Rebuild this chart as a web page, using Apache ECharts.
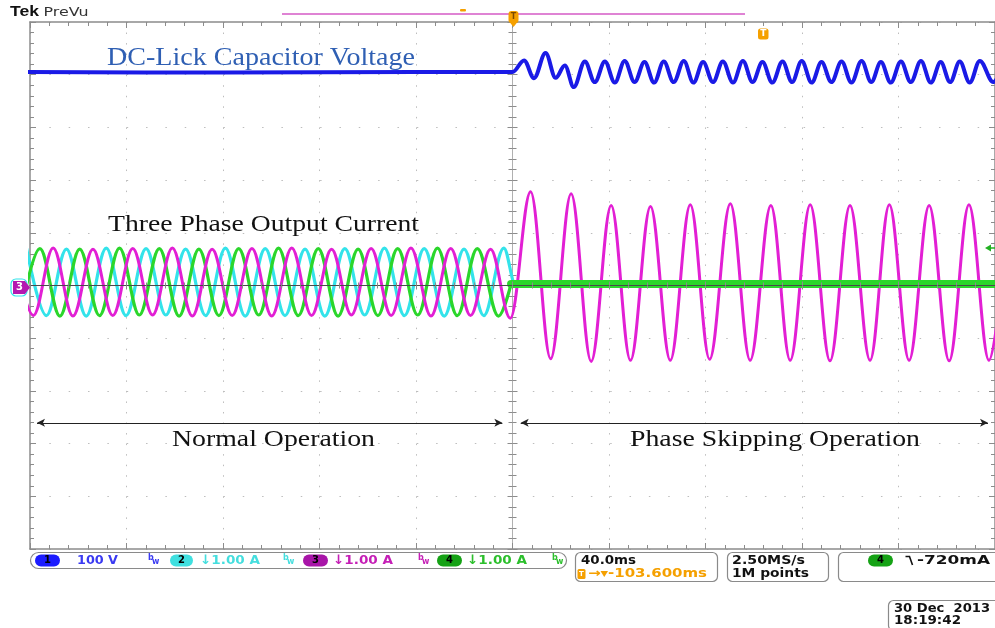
<!DOCTYPE html>
<html><head><meta charset="utf-8">
<script src="https://cdn.jsdelivr.net/npm/echarts@6/dist/echarts.min.js"></script>
<style>html,body{margin:0;padding:0;background:#fff}#c{width:995px;height:628px}</style>
</head><body><div id="c"></div>
<script>
// ---------------- data read from the scope capture ----------------
// time axis: 40 ms/div, 10 div, trigger at centre (t = 0)
const timeRangeMs = [-200, 200];
const timeDivMs = 40;
// vertical axis in divisions
const divRange = [-5, 5];
const VOLTS_PER_DIV = 100;   // ch1
const AMPS_PER_DIV = 1;      // ch2, ch3, ch4

// ch1: DC-link capacitor voltage (V)  (extrema only)
const dcLinkT = [-205, -120, -40, 0, 4.8, 8.9, 13.7, 17.9, 21.7, 25.4,
  30.0, 34.1, 38.3, 42.4, 46.5, 50.6, 54.7, 58.7, 62.7, 66.8,
  71.0, 75.0, 79.0, 83.1, 87.2, 91.4, 95.5, 99.5, 103.6, 107.7,
  111.9, 115.9, 119.9, 124.0, 128.1, 132.2, 136.4, 140.5, 144.7, 148.7,
  152.7, 156.8, 161.0, 165.1, 169.3, 173.4, 177.5, 181.4, 185.4, 189.5,
  193.7, 199.3, 203.5];
const dcLinkV = [405, 404, 405, 405, 427, 393.5, 441, 394, 417.5, 376.5,
  425, 386, 425, 385, 426, 386, 424, 385, 425, 386,
  426, 385, 424, 386, 425, 385, 426, 386, 424, 385,
  425, 386, 426, 385, 424, 386, 425, 385, 426, 386,
  424, 385, 425, 386, 426, 385, 424, 386, 425, 385,
  426, 386, 425];

// ch3 (magenta) phase current (A)  (peaks / troughs)
const phaseAT = [-206.8, -198.6, -190.4, -182.2, -173.9, -165.7, -157.4, -149.2, -141.0, -132.7,
  -124.5, -116.2, -108.0, -99.8, -91.5, -83.3, -75.0, -66.8, -58.6, -50.3,
  -42.1, -33.8, -25.6, -17.4, -9.1, -0.9,
  7.5, 15.8, 24.3, 32.6, 40.9, 48.9, 57.2, 65.4, 73.7, 81.7,
  90.3, 98.5, 107.1, 115.1, 123.4, 131.6, 139.9, 148.2, 156.2, 164.4,
  172.7, 181.0, 189.2, 197.5, 205.8];
const phaseAV = [0.70, -0.57, 0.71, -0.58, 0.69, -0.57, 0.70, -0.56, 0.71, -0.58,
  0.69, -0.57, 0.70, -0.58, 0.71, -0.57, 0.69, -0.56, 0.70, -0.57,
  0.71, -0.58, 0.70, -0.57, 0.69, -0.62,
  1.78, -1.39, 1.74, -1.44, 1.52, -1.42, 1.50, -1.42, 1.53, -1.40,
  1.55, -1.42, 1.52, -1.42, 1.53, -1.43, 1.52, -1.42, 1.53, -1.42,
  1.52, -1.43, 1.53, -1.42, 1.52];

// ch2 (cyan) phase current (A)
const phaseBT = [-201.4, -193.2, -184.9, -176.7, -168.4, -160.2, -151.9, -143.7, -135.5, -127.2,
  -119.0, -110.8, -102.5, -94.3, -86.0, -77.8, -69.5, -61.3, -53.1, -44.8,
  -36.6, -28.3, -20.1, -11.9, -3.6, 1.2, 205];
const phaseBV = [0.70, -0.57, 0.69, -0.58, 0.71, -0.57, 0.70, -0.56, 0.69, -0.57,
  0.71, -0.58, 0.70, -0.57, 0.69, -0.58, 0.70, -0.56, 0.71, -0.57,
  0.70, -0.58, 0.69, -0.57, 0.71, 0.02, 0.02];

// ch4 (green) phase current (A)
const phaseCT = [-204.1, -195.9, -187.6, -179.4, -171.2, -162.9, -154.7, -146.4, -138.2, -130.0,
  -121.7, -113.5, -105.2, -97.0, -88.8, -80.5, -72.3, -64.0, -55.8, -47.6,
  -39.3, -31.1, -22.9, -14.6, -5.8, -0.6];
const phaseCV = [-0.57, 0.70, -0.58, 0.69, -0.57, 0.71, -0.56, 0.70, -0.58, 0.69,
  -0.57, 0.70, -0.56, 0.71, -0.57, 0.70, -0.58, 0.69, -0.57, 0.70,
  -0.56, 0.71, -0.57, 0.70, -0.58, 0.03];
// ch4 after the phase is skipped (flat, noisy band)
const phaseCSkipT = [-0.6, 205];
const phaseCSkipV = [0.03, 0.03];

// annotation arrows (ms, A)
const arrowSpansT = [[-197.1, -4.2], [3.4, 197.1]];
const arrowLevel = -2.605;

// ---------------- chart ----------------
const C = {
  blue: '#1a1ae6', magenta: '#e21fd4', cyan: '#33e3ea', green: '#2bd62b',
  frame: '#8c8c8c', grid: '#bdbdbd', orange: '#f5a000'
};

function toPairs(T, V, scale) { return T.map((t, i) => [t, V[i] / scale]); }
function wave(name, T, V, scale, color, width, z) {
  return {
    type: 'line', name, xAxisIndex: 0, yAxisIndex: 0, data: toPairs(T, V, scale),
    showSymbol: false, symbol: 'none', smooth: 0.36, smoothMonotone: 'x',
    lineStyle: { color, width, cap: 'round', join: 'round' }, z, silent: true, animation: false
  };
}

const tickStyle = { color: C.frame, width: 1 };
function xAxisDef(opts) {
  return {
    type: 'value', gridIndex: 0, min: timeRangeMs[0], max: timeRangeMs[1], interval: timeDivMs,
    position: opts.position, z: opts.z || 1,
    axisLabel: { show: false },
    axisLine: { show: opts.line !== false, onZero: !!opts.onZero, onZeroAxisIndex: 0,
      lineStyle: { color: opts.lineColor || C.frame, width: opts.lineWidth || 1.5 } },
    axisTick: { show: true, inside: true, length: opts.major || 6, lineStyle: tickStyle },
    minorTick: { show: true, splitNumber: 5, length: opts.minor || 4, lineStyle: tickStyle },
    splitLine: opts.split ? { show: true, lineStyle: { color: C.grid, width: 1, type: [1.5, 9.04] } } : { show: false }
  };
}
function yAxisDef(opts) {
  return {
    type: 'value', gridIndex: 0, min: divRange[0], max: divRange[1], interval: 1,
    position: opts.position, z: opts.z || 1,
    axisLabel: { show: false },
    axisLine: { show: opts.line !== false, onZero: !!opts.onZero, onZeroAxisIndex: 0,
      lineStyle: { color: opts.lineColor || C.frame, width: opts.lineWidth || 1.5 } },
    axisTick: { show: true, inside: true, length: opts.major || 6, lineStyle: tickStyle },
    minorTick: { show: true, splitNumber: 5, length: opts.minor || 4, lineStyle: tickStyle },
    splitLine: opts.split ? { show: true, lineStyle: { color: C.grid, width: 1, type: [1.5, 17.84] } } : { show: false }
  };
}

// ---- text helpers (graphic overlay) ----
const mctx = document.createElement('canvas').getContext('2d');
function fitScale(text, font, w) {
  if (!w) return 1;
  mctx.font = font;
  return w / mctx.measureText(text).width;
}
function txt(text, x, y, font, fill, w, align) {
  return { type: 'text', x, y, scaleX: fitScale(text, font, w), z: 100, silent: true,
    style: { text, font, fill, textAlign: align || 'left', textVerticalAlign: 'middle' } };
}
function box(x, y, w, h, r, fill, stroke, lw) {
  return { type: 'rect', z: 99, silent: true, shape: { x, y, width: w, height: h, r },
    style: { fill: fill || '#fff', stroke: stroke || 'none', lineWidth: lw || 1 } };
}
function badge(x, w, color, label) {
  return [box(x, 554.5, w, 12, 6, color),
    { type: 'text', x: x + w / 2, y: 560.8, z: 101, silent: true,
      style: { text: label, font: 'bold 10px "DejaVu Sans"', fill: '#000', textAlign: 'center', textVerticalAlign: 'middle' } }];
}
function bwIcon(x, color) {
  return [txt('b', x, 558, 'bold 8px "DejaVu Sans"', color),
          txt('w', x + 4, 562, 'bold 8px "DejaVu Sans"', color)];
}

const serif = (s) => s + 'px "Liberation Serif"';
const mono = 'bold 13px "DejaVu Sans"';

const graphics = [
  // header
  txt('Tek', 10, 12, 'bold 15px "Liberation Sans"', '#111', 29),
  txt('PreVu', 43.5, 13, '12px "DejaVu Sans"', '#333', 45),
  { type: 'line', z: 50, silent: true, shape: { x1: 282, y1: 14, x2: 745, y2: 14 }, style: { stroke: '#d45ac6', lineWidth: 1.5 } },
  box(460, 9, 6, 2.5, 1, C.orange),
  // trigger position marker
  box(508.5, 11, 10, 12, 3, C.orange),
  { type: 'polygon', z: 99, silent: true, shape: { points: [[509.5, 22], [517.5, 22], [513.5, 27]] }, style: { fill: C.orange } },
  txt('T', 513.5, 17, 'bold 8px "DejaVu Sans"', '#7a4a00', null, 'center'),
  // trigger marker near top right
  box(758, 28.5, 10.5, 11, 2.5, C.orange),
  txt('T', 763.2, 34, 'bold 9px "DejaVu Sans"', '#fff', null, 'center'),
  // trigger level arrow (ch4) at right edge
  { type: 'polygon', z: 99, silent: true, shape: { points: [[985, 248], [991, 244.5], [991, 251.5]] }, style: { fill: '#22b022' } },
  { type: 'line', z: 99, silent: true, shape: { x1: 990, y1: 248, x2: 995, y2: 248 }, style: { stroke: '#22b022', lineWidth: 1.5 } },
  // ch3 ground marker on left
  box(11, 279, 16, 17, 5, 'none', C.cyan, 1.2),
  { type: 'polygon', z: 100, silent: true, shape: { points: [[13, 281], [25, 281], [30, 287.5], [25, 294], [13, 294]] }, style: { fill: '#b517b0' } },
  { type: 'text', x: 19.5, y: 287.8, z: 101, silent: true, style: { text: '3', font: 'bold 10px "DejaVu Sans"', fill: '#fff', textAlign: 'center', textVerticalAlign: 'middle' } },

  // annotation texts
  txt('DC-Lick Capacitor Voltage', 107, 58, serif(25), '#2f5fb3', 308),
  txt('Three Phase Output Current', 108, 225, serif(24), '#111', 311),
  txt('Normal Operation', 172, 439.5, serif(24), '#111', 203),
  txt('Phase Skipping Operation', 630, 439.5, serif(24), '#111', 290),

  // ---- bottom status bar ----
  box(30.5, 552.5, 536, 16, 8, '#fff', '#8a8a8a', 1.2),
  ...badge(35, 25, '#1c1cff', '1'),
  txt('100 V', 77, 560.5, mono, '#3a3af2', 41),
  ...bwIcon(148, '#3a3af2'),
  ...badge(170, 23, '#3fe0e0', '2'),
  txt('\u21931.00 A', 200, 560.5, mono, '#45dede', 60),
  ...bwIcon(283, '#45dede'),
  ...badge(303, 25, '#a815a8', '3'),
  txt('\u21931.00 A', 333, 560.5, mono, '#c51fb6', 60),
  ...bwIcon(418, '#c51fb6'),
  ...badge(437, 25, '#15a215', '4'),
  txt('\u21931.00 A', 467, 560.5, mono, '#2cbf2c', 60),
  ...bwIcon(552, '#2cbf2c'),

  box(575.5, 552.5, 142, 29, 5, '#fff', '#8a8a8a', 1.2),
  txt('40.0ms', 581, 561, mono, '#111', 55),
  box(577.5, 569, 8, 10, 1.5, C.orange),
  txt('T', 581.5, 574.2, 'bold 7px "DejaVu Sans"', '#fff', null, 'center'),
  txt('\u2192\u25BE-103.600ms', 588, 574, 'bold 12px "DejaVu Sans"', C.orange, 119),

  box(727.5, 552.5, 101, 29, 5, '#fff', '#8a8a8a', 1.2),
  txt('2.50MS/s', 732, 561, mono, '#111', 73),
  txt('1M points', 732, 574, mono, '#111', 77),

  box(838.5, 552.5, 170, 29, 5, '#fff', '#8a8a8a', 1.2),
  box(868, 554.5, 25, 12, 6, '#15a215'),
  { type: 'text', x: 880.5, y: 560.8, z: 101, silent: true, style: { text: '4', font: 'bold 10px "DejaVu Sans"', fill: '#000', textAlign: 'center', textVerticalAlign: 'middle' } },
  { type: 'polyline', z: 101, silent: true, shape: { points: [[905.5, 556.5], [909.5, 556.5], [912.5, 565]] }, style: { stroke: '#111', lineWidth: 1.6, fill: 'none' } },
  txt('-720mA', 917, 561, mono, '#111', 73),

  box(888.5, 600.5, 115, 30, 5, '#fff', '#8a8a8a', 1.2),
  txt('30 Dec  2013', 894, 608.5, mono, '#111', 96),
  txt('18:19:42', 894, 621, mono, '#111', 67)
];

const arrowData = arrowSpansT.map(s => [{ coord: [s[0], arrowLevel] }, { coord: [s[1], arrowLevel] }]);

const option = {
  animation: false,
  backgroundColor: '#ffffff',
  grid: { left: 30, top: 22, width: 967, height: 527, show: false },
  xAxis: [
    xAxisDef({ position: 'bottom', split: true }),
    xAxisDef({ position: 'top' }),
    xAxisDef({ position: 'bottom', onZero: true, lineColor: '#4a4a4a', lineWidth: 1, z: 10, major: 4, minor: 3 }),
    xAxisDef({ position: 'top', onZero: true, line: false, z: 10, major: 4, minor: 3 })
  ],
  yAxis: [
    yAxisDef({ position: 'left', split: true }),
    yAxisDef({ position: 'right' }),
    yAxisDef({ position: 'left', onZero: true, lineColor: '#b0b0b0', lineWidth: 1, major: 5, minor: 4 }),
    yAxisDef({ position: 'right', onZero: true, line: false, major: 5, minor: 4 })
  ],
  series: [
    wave('ch2', phaseBT, phaseBV, AMPS_PER_DIV, C.cyan, 3.2, 3),
    wave('ch4', phaseCT, phaseCV, AMPS_PER_DIV, C.green, 3.2, 4),
    wave('ch3', phaseAT, phaseAV, AMPS_PER_DIV, C.magenta, 3, 5),
    Object.assign(wave('ch4 skipped', phaseCSkipT, phaseCSkipV, AMPS_PER_DIV, C.green, 8, 6), { smooth: false }),
    Object.assign(wave('ch1', dcLinkT, dcLinkV, VOLTS_PER_DIV, C.blue, 4, 6), {
      markLine: {
        silent: true, symbol: ['arrow', 'arrow'], symbolSize: [6, 8], precision: 3,
        label: { show: false }, lineStyle: { color: '#222', width: 1.2, type: 'solid' },
        emphasis: { disabled: true }, data: arrowData
      }
    })
  ],
  graphic: { elements: graphics }
};

const chart = echarts.init(document.getElementById('c'), null, { renderer: 'canvas' });
chart.setOption(option);
</script></body></html>
